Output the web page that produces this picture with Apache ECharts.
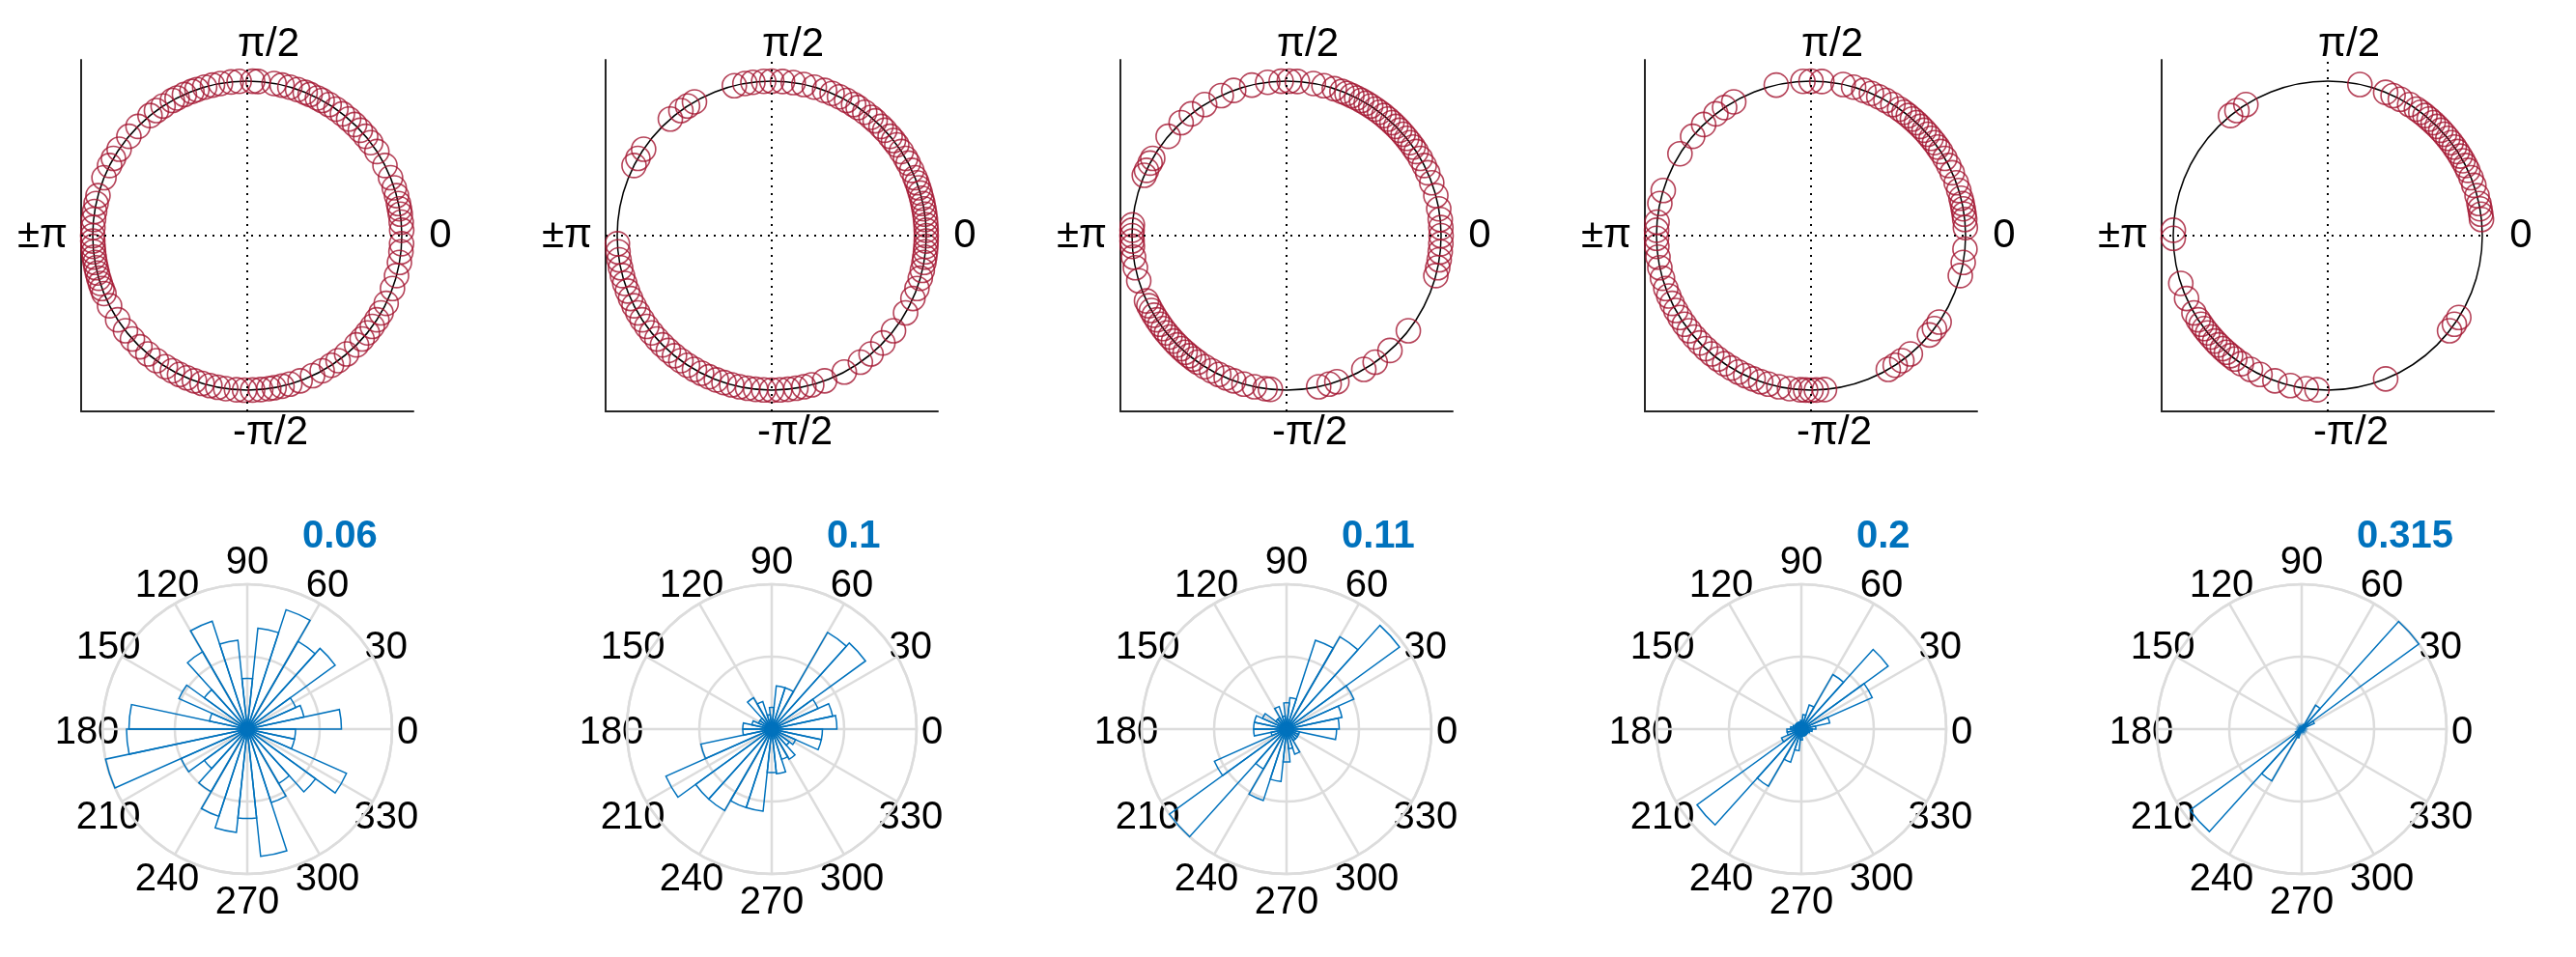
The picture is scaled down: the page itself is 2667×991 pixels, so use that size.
<!DOCTYPE html>
<html>
<head>
<meta charset="utf-8">
<script src="https://cdn.jsdelivr.net/npm/echarts@6/dist/echarts.min.js"></script>
<style>
  html, body { margin: 0; padding: 0; background: #fff; }
  #main { width: 2667px; height: 991px; }
</style>
</head>
<body>
<div id="main"></div>
<script>
// phase angles (degrees) of the points in the top row
var phase1 = [2,5,8,10,12,15,18,22,27,33,37,40,43,46,49,52,55,58,61,63,66,68,71,74,77,80,86,88,93,96,100,103,106,109,111,114,117,119,123,126,129,135,140,146,150,153,158,165,168,171,174,177,180,182,184,186,188,190,192,194,196,198,200,202,207,213,218,222,226,230,234,238,241,244,247,250,253,256,259,262,266,269,272,275,278,280,283,286,290,295,299,303,306,310,315,318,321,324,327,330,334,340,345,350,354,357];
var phase2 = [0,2,4,6,8,10,12,14,16,18,20,22,25,28,30,33,36,38,40,43,45,48,50,53,56,58,61,64,67,70,74,78,82,86,90,93,97,100,104,120,123,126,131,146,150,153,183,186,189,192,195,198,201,204,207,210,213,216,219,222,225,228,231,234,237,240,243,246,249,252,255,258,261,264,267,270,273,276,279,282,285,290,298,305,310,316,322,330,336,340,344,347,350,352,354,356,358];
var phase3 = [0,3,6,10,15,20,24,27,30,33,35,37,39,41,43,45,47,49,51,53,55,57,59,61,63,65,67,69,72,76,80,86,89,92,97,103,110,115,122,128,133,140,150,152,155,157,176,178,180,182,184,188,192,197,205,207,209,211,213,215,217,219,221,223,225,227,229,231,233,235,238,241,244,247,250,254,258,262,264,282,286,289,300,305,312,322,345,348,351,354,357];
var phase4 = [3,6,8,10,12,14,17,20,24,27,30,33,35,37,39,41,43,45,47,49,51,53,55,58,61,64,67,70,74,78,86,90,93,103,120,124,128,134,140,148,163,168,175,178,181,184,188,192,196,200,203,206,209,212,215,218,221,224,227,230,233,236,239,242,245,248,251,254,258,262,266,268,270,272,275,300,303,306,310,320,323,326,345,350,355];
var phase5 = [6,8,10,12,15,19,22,25,27,29,31,33,35,37,39,41,43,45,47,49,51,53,55,58,62,65,68,78,122,126,129,178,181,198,204,210,213,215,217,219,221,223,225,227,229,231,233,236,240,244,250,256,262,266,292,322,325,328];

// polar histogram, 30 bins of 12 degrees starting at 0
var binLabels = ['0','12','24','36','48','60','72','84','96','108','120','132','144','156','168','180','192','204','216','228','240','252','264','276','288','300','312','324','336','348'];
var hist1 = [0.039,0.024,0.022,0.045,0.042,0.052,0.042,0.021,0.037,0.047,0.037,0.022,0.031,0.016,0.049,0.05,0.06,0.03,0.022,0.03,0.038,0.043,0.037,0.053,0.032,0.026,0.035,0.045,0.02,0.02];
var hist2 = [0.045,0.043,0.035,0.08,0.077,0.03,0.03,0.015,0.01,0.02,0.025,0.01,0.01,0.014,0.02,0.02,0.05,0.08,0.065,0.065,0.057,0.057,0.03,0.031,0.022,0.024,0.015,0.018,0.035,0.035];
var hist3 = [0.04,0.043,0.056,0.106,0.081,0.071,0.024,0.02,0.01,0.018,0.01,0.01,0.02,0.025,0.025,0.025,0.012,0.06,0.11,0.035,0.057,0.04,0.025,0.015,0.02,0.01,0.01,0.01,0.01,0.038];
var hist4 = [0.02,0.04,0.107,0.148,0.087,0.035,0.02,0.012,0.01,0.01,0.01,0.01,0.01,0.012,0.015,0.02,0.02,0.03,0.178,0.091,0.048,0.03,0.015,0.01,0.01,0.01,0.01,0.01,0.012,0.015];
var hist5 = [0.005,0.008,0.03,0.315,0.06,0.01,0.005,0.004,0.003,0.003,0.003,0.003,0.003,0.004,0.005,0.006,0.008,0.015,0.30,0.13,0.02,0.006,0.004,0.003,0.003,0.003,0.003,0.003,0.004,0.004];
var histMax = [0.06, 0.1, 0.11, 0.2, 0.315];
var histMaxLabels = ['0.06', '0.1', '0.11', '0.2', '0.315'];

// rose tick angles (degrees) and their labels
var roseTicks = [0, 30, 60, 90, 120, 150, 180, 210, 240, 270, 300, 330];
var roseTickLabels = ['0', '30', '60', '90', '120', '150', '180', '210', '240', '270', '300', '330'];

var phases = [phase1, phase2, phase3, phase4, phase5];
var hists = [hist1, hist2, hist3, hist4, hist5];

var topCx = [256, 799, 1332, 1875, 2410];
var botCx = [256, 799, 1332, 1865, 2383];
var topCy = 244, botCy = 755;
var FONT = 'Liberation Sans, Arial, sans-serif';

var chart = echarts.init(document.getElementById('main'));
var grid = [], xAxis = [], yAxis = [], polar = [], angleAxis = [], radiusAxis = [], series = [], graphic = [];

for (var k = 0; k < 5; k++) {
    var cx = topCx[k];
    // axes box (left + bottom lines) with dotted crosshair
    grid.push({ left: cx - 172, top: 62, width: 344, height: 364 });
    xAxis.push({ gridIndex: k, type: 'value', min: -1.1, max: 1.1, axisLine: { show: true, onZero: false, lineStyle: { color: '#262626', width: 2 } }, axisTick: { show: false }, axisLabel: { show: false }, splitLine: { show: false } });
    yAxis.push({ gridIndex: k, type: 'value', min: -1.1, max: 1.1, axisLine: { show: true, onZero: false, lineStyle: { color: '#262626', width: 2 } }, axisTick: { show: false }, axisLabel: { show: false }, splitLine: { show: false } });
    series.push({
        type: 'line', xAxisIndex: k, yAxisIndex: k, data: [],
        markLine: { silent: true, symbol: 'none', label: { show: false },
            lineStyle: { color: '#000', type: [2, 6], width: 2 },
            data: [{ xAxis: 0 }, { yAxis: 0 }] }
    });

    // unit circle + points
    var pi = polar.length;
    polar.push({ center: [cx, topCy], radius: 160 });
    angleAxis.push({ polarIndex: pi, type: 'value', min: 0, max: 360, startAngle: 0, clockwise: false,
        axisLine: { lineStyle: { color: '#000', width: 1.5 } }, axisTick: { show: false }, axisLabel: { show: false }, splitLine: { show: false } });
    radiusAxis.push({ polarIndex: pi, type: 'value', min: 0, max: 1, axisLine: { show: false }, axisTick: { show: false }, axisLabel: { show: false }, splitLine: { show: false } });
    series.push({
        type: 'scatter', coordinateSystem: 'polar', polarIndex: pi,
        data: phases[k].map(function (a) { return [1, a]; }),
        symbol: 'circle', symbolSize: 25,
        itemStyle: { color: 'rgba(0,0,0,0)', borderColor: '#A2142F', borderWidth: 1.6 }
    });

    var ts = { fontSize: 42, fontFamily: FONT, fill: '#000', align: 'center', verticalAlign: 'middle' };
    graphic.push({ type: 'text', x: cx + 22, y: 46, style: Object.assign({ text: 'π/2' }, ts) });
    graphic.push({ type: 'text', x: cx + 24, y: 448, style: Object.assign({ text: '-π/2' }, ts) });
    graphic.push({ type: 'text', x: cx + 200, y: topCy, style: Object.assign({ text: '0' }, ts) });
    graphic.push({ type: 'text', x: cx - 212, y: topCy, style: Object.assign({ text: '±π' }, ts) });

    // rose: grid polar
    var bx = botCx[k], M = histMax[k];
    var gi = polar.length;
    polar.push({ center: [bx, botCy], radius: 150 });
    angleAxis.push({ polarIndex: gi, type: 'value', min: 0, max: 360, interval: 30, startAngle: 0, clockwise: false,
        axisLine: { lineStyle: { color: '#DCDCDC', width: 2.5 } }, axisTick: { show: false },
        axisLabel: { show: false },
        splitLine: { lineStyle: { color: '#DCDCDC', width: 2.5 } } });
    radiusAxis.push({ polarIndex: gi, type: 'value', min: 0, max: M, interval: M / 2, axisLine: { show: false }, axisTick: { show: false }, axisLabel: { show: false },
        splitLine: { lineStyle: { color: '#DCDCDC', width: 2.5 } } });

    // tick labels centred on a fixed ring outside the grid
    roseTicks.forEach(function (a, i) {
        var r = a * Math.PI / 180;
        graphic.push({ type: 'text', x: bx + 166 * Math.cos(r), y: botCy + 4 - 176 * Math.sin(r),
            style: { text: roseTickLabels[i], fontSize: 40, fontFamily: FONT, fill: '#000', align: 'center', verticalAlign: 'middle' } });
    });

    // rose: bars polar
    var bi = polar.length;
    polar.push({ center: [bx, botCy], radius: 150 });
    angleAxis.push({ polarIndex: bi, type: 'category', data: binLabels, startAngle: 0, clockwise: false,
        axisLine: { show: false }, axisTick: { show: false }, axisLabel: { show: false }, splitLine: { show: false } });
    radiusAxis.push({ polarIndex: bi, type: 'value', min: 0, max: M, axisLine: { show: false }, axisTick: { show: false }, axisLabel: { show: false }, splitLine: { show: false } });
    series.push({
        type: 'bar', coordinateSystem: 'polar', polarIndex: bi, data: hists[k],
        barCategoryGap: '0%', z: 5,
        itemStyle: { color: 'rgba(255,255,255,0)', borderColor: '#0072BD', borderWidth: 1.5 }
    });

    graphic.push({ type: 'text', x: bx + 57, y: 556,
        style: { text: histMaxLabels[k], fontSize: 40, fontWeight: 'bold', fontFamily: FONT, fill: '#0072BD', align: 'left', verticalAlign: 'middle' } });
}

chart.setOption({
    animation: false,
    backgroundColor: '#fff',
    grid: grid, xAxis: xAxis, yAxis: yAxis,
    polar: polar, angleAxis: angleAxis, radiusAxis: radiusAxis,
    series: series,
    graphic: graphic
});
</script>
</body>
</html>
